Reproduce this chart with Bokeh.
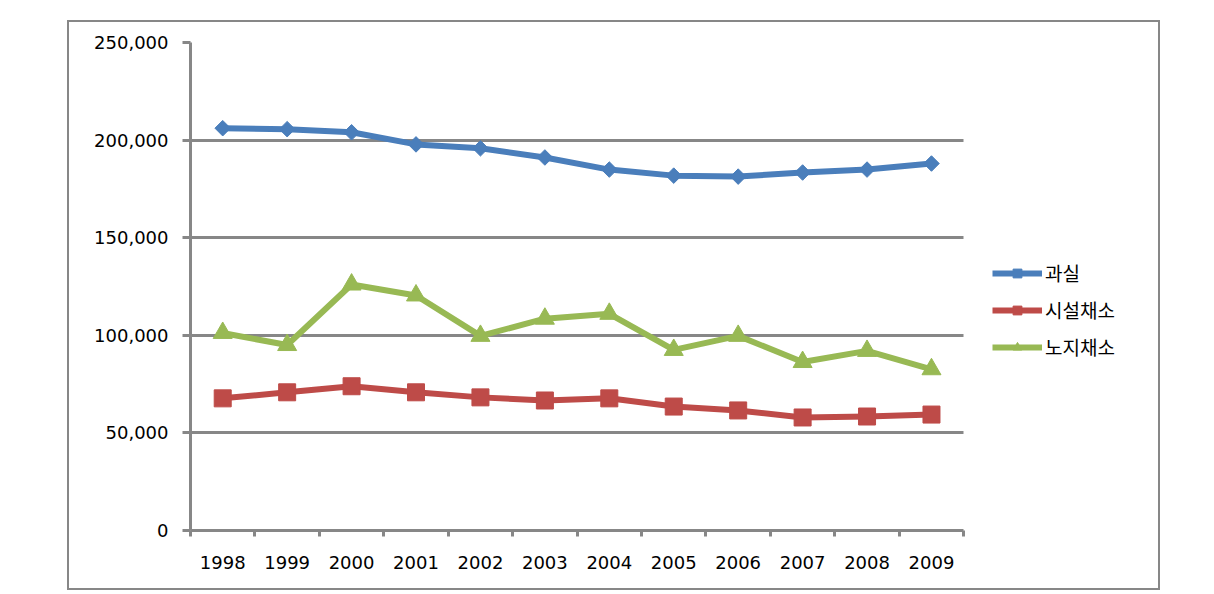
import math
from bokeh.plotting import figure
from bokeh.models import (FixedTicker, NumeralTickFormatter, Legend, LegendItem,
                          Range1d, Spacer)
from bokeh.layouts import column, row
from bokeh.embed import file_html
from bokeh.resources import INLINE

years = ["1998", "1999", "2000", "2001", "2002", "2003", "2004", "2005",
         "2006", "2007", "2008", "2009"]
fruit = [206100, 205600, 204000, 197800, 195800, 191100, 184900, 181800,
         181300, 183400, 184900, 188000]          # 과실
greenhouse = [67700, 70800, 73900, 70800, 68200, 66600, 67700, 63500,
              61500, 57900, 58400, 59400]         # 시설채소
openfield = [101200, 95000, 126000, 120400, 99700, 108500, 111000, 92500,
             99700, 86300, 92000, 82600]          # 노지채소
series_names = ["과실", "시설채소", "노지채소"]
y_ticks = [0, 50000, 100000, 150000, 200000, 250000]

GRAY = "#878787"
NUM_FONT = "DejaVu Sans"
KR_FONT = "Noto Sans CJK KR"

xs = list(range(len(years)))

# plot area is 770 px wide for the 12 categories; the frame is extended to the
# right so the legend (which lives inside the frame) is not clipped.
PLOT_W = 770
FRAME_W = 965
x_lo = -0.5
x_hi_cat = len(years) - 0.5
x_hi = x_lo + (x_hi_cat - x_lo) * FRAME_W / PLOT_W

p = figure(frame_width=FRAME_W, frame_height=484, output_backend="svg",
           toolbar_location=None,
           x_range=Range1d(x_lo, x_hi),
           y_range=Range1d(y_ticks[0], y_ticks[-1]),
           min_border_left=121, min_border_right=3,
           min_border_top=20, min_border_bottom=62)
p.styles = {"border": f"2px solid {GRAY}"}
p.outline_line_color = None
p.background_fill_color = "white"
p.border_fill_color = "white"

# x axis: labels at category centers, tick marks at boundaries (minor ticks)
p.xaxis.ticker = FixedTicker(ticks=xs, minor_ticks=[i - 0.5 for i in range(len(years) + 1)])
p.xaxis.bounds = (x_lo, x_hi_cat)
p.xaxis.major_label_overrides = {i: y for i, y in enumerate(years)}
p.xaxis.major_tick_line_color = None
p.xaxis.major_tick_out = 0
p.xaxis.major_tick_in = 0
p.xaxis.minor_tick_line_color = GRAY
p.xaxis.minor_tick_line_width = 3
p.xaxis.minor_tick_out = 6
p.xaxis.minor_tick_in = 0
p.xaxis.axis_line_color = GRAY
p.xaxis.axis_line_width = 3
p.xaxis.major_label_standoff = 19
p.xaxis.major_label_text_font = NUM_FONT
p.xaxis.major_label_text_font_size = "18px"
p.xaxis.major_label_text_color = "black"
p.xgrid.grid_line_color = None

p.yaxis.ticker = FixedTicker(ticks=y_ticks, minor_ticks=[])
p.yaxis.formatter = NumeralTickFormatter(format="0,0")
p.yaxis.axis_line_color = GRAY
p.yaxis.axis_line_width = 3
p.yaxis.major_tick_line_color = GRAY
p.yaxis.major_tick_line_width = 3
p.yaxis.major_tick_out = 8
p.yaxis.major_tick_in = 0
p.yaxis.minor_tick_line_color = None
p.yaxis.major_label_standoff = 14
p.yaxis.major_label_text_font = NUM_FONT
p.yaxis.major_label_text_font_size = "18px"
p.yaxis.major_label_text_color = "black"
p.ygrid.ticker = FixedTicker(ticks=y_ticks)
p.ygrid.grid_line_color = GRAY
p.ygrid.grid_line_width = 3
p.ygrid.cross_bounds = (x_lo, x_hi_cat)

colors = ["#4A7EBB", "#BE4B48", "#98B954"]
data = [fruit, greenhouse, openfield]
markers = [("square", 11, math.pi / 4), ("square", 17, 0), ("triangle", 19, 0)]

items = []
for name, vals, col, (mk, sz, ang) in zip(series_names, data, colors, markers):
    ln = p.line(xs, vals, line_color=col, line_width=6, line_join="round")
    sc = p.scatter(xs, vals, marker=mk, size=sz, angle=ang,
                   fill_color=col, line_color=col)
    items.append(LegendItem(label=name, renderers=[ln, sc]))

legend = Legend(items=items, location=(802, 170), orientation="vertical",
                border_line_color=None, background_fill_alpha=0,
                padding=0, margin=0, glyph_width=50, glyph_height=22,
                label_standoff=3, spacing=10,
                label_text_font=KR_FONT, label_text_font_size="19px",
                label_text_color="black")
p.add_layout(legend, "center")

layout = column(Spacer(height=20), row(Spacer(width=67), p))

open("out.html", "w").write(file_html(layout, INLINE))
